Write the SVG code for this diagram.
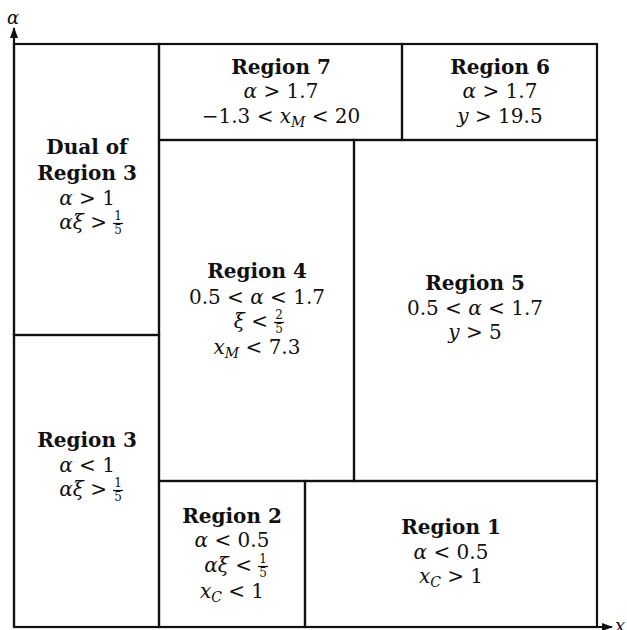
<svg xmlns="http://www.w3.org/2000/svg" width="627" height="630" viewBox="0 0 627 630">
<style>
.cell{fill:none;stroke:#111;stroke-width:2.2}
.ax{fill:none;stroke:#111;stroke-width:2.2}
text{font-family:"DejaVu Serif","Liberation Serif",serif;fill:#111}
.t{font-size:20px;font-weight:bold;text-anchor:middle}
.m{font-size:20px;text-anchor:middle}
.e{font-size:20px;text-anchor:end}
.i{font-style:italic}
.s{font-size:14px;font-style:italic}
.f{font-size:12px;text-anchor:middle}
.bar{stroke:#111;stroke-width:1.2}
</style>
<defs>
<marker id="ah" markerWidth="11" markerHeight="8" refX="10" refY="4" orient="auto" markerUnits="userSpaceOnUse">
<path d="M0,0 L11,4 L0,8 Z" fill="#111"/>
</marker>
</defs>
<g id="connectors">
<line class="ax" x1="14" y1="627" x2="14" y2="28" marker-end="url(#ah)"/>
<line class="ax" x1="14" y1="627" x2="612" y2="627" marker-end="url(#ah)"/>
<text class="i" x="13" y="24" font-size="18" text-anchor="middle">α</text>
<text class="i" x="615" y="632" font-size="18">x</text>
</g>
<g id="dual3">
<rect class="cell" x="14" y="44" width="145" height="291"/>
<text class="t" x="87" y="154">Dual of</text>
<text class="t" x="87" y="180">Region 3</text>
<text class="m" x="87" y="205"><tspan class="i">α</tspan> &gt; 1</text>
<text class="e" x="107" y="229"><tspan class="i">αξ</tspan> &gt;</text>
<text class="f" x="118" y="220">1</text>
<line class="bar" x1="113" y1="223.5" x2="123" y2="223.5"/>
<text class="f" x="118" y="234">5</text>
</g>
<g id="region3">
<rect class="cell" x="14" y="335" width="145" height="292"/>
<text class="t" x="87" y="447">Region 3</text>
<text class="m" x="87" y="472"><tspan class="i">α</tspan> &lt; 1</text>
<text class="e" x="107" y="496"><tspan class="i">αξ</tspan> &gt;</text>
<text class="f" x="118" y="487">1</text>
<line class="bar" x1="113" y1="490.5" x2="123" y2="490.5"/>
<text class="f" x="118" y="501">5</text>
</g>
<g id="region7">
<rect class="cell" x="159" y="44" width="243" height="96"/>
<text class="t" x="281" y="74">Region 7</text>
<text class="m" x="281" y="98"><tspan class="i">α</tspan> &gt; 1.7</text>
<text class="m" x="281" y="123">−1.3 &lt; <tspan class="i">x</tspan><tspan class="s" dy="4">M</tspan><tspan dy="-4"> &lt; 20</tspan></text>
</g>
<g id="region6">
<rect class="cell" x="402" y="44" width="195" height="96"/>
<text class="t" x="500" y="74">Region 6</text>
<text class="m" x="500" y="98"><tspan class="i">α</tspan> &gt; 1.7</text>
<text class="m" x="500" y="123"><tspan class="i">y</tspan> &gt; 19.5</text>
</g>
<g id="region4">
<rect class="cell" x="159" y="140" width="195" height="341"/>
<text class="t" x="257" y="278">Region 4</text>
<text class="m" x="257" y="304">0.5 &lt; <tspan class="i">α</tspan> &lt; 1.7</text>
<text class="e" x="268" y="328"><tspan class="i">ξ</tspan> &lt;</text>
<text class="f" x="279" y="319">2</text>
<line class="bar" x1="274" y1="322.5" x2="284" y2="322.5"/>
<text class="f" x="279" y="333">5</text>
<text class="m" x="257" y="354"><tspan class="i">x</tspan><tspan class="s" dy="4">M</tspan><tspan dy="-4"> &lt; 7.3</tspan></text>
</g>
<g id="region5">
<rect class="cell" x="354" y="140" width="243" height="341"/>
<text class="t" x="475" y="290">Region 5</text>
<text class="m" x="475" y="315">0.5 &lt; <tspan class="i">α</tspan> &lt; 1.7</text>
<text class="m" x="475" y="339"><tspan class="i">y</tspan> &gt; 5</text>
</g>
<g id="region2">
<rect class="cell" x="159" y="481" width="146" height="146"/>
<text class="t" x="232" y="523">Region 2</text>
<text class="m" x="232" y="547"><tspan class="i">α</tspan> &lt; 0.5</text>
<text class="e" x="252" y="572"><tspan class="i">αξ</tspan> &lt;</text>
<text class="f" x="263" y="563">1</text>
<line class="bar" x1="258" y1="566.5" x2="268" y2="566.5"/>
<text class="f" x="263" y="577">5</text>
<text class="m" x="232" y="598"><tspan class="i">x</tspan><tspan class="s" dy="4">C</tspan><tspan dy="-4"> &lt; 1</tspan></text>
</g>
<g id="region1">
<rect class="cell" x="305" y="481" width="292" height="146"/>
<text class="t" x="451" y="534">Region 1</text>
<text class="m" x="451" y="559"><tspan class="i">α</tspan> &lt; 0.5</text>
<text class="m" x="451" y="583"><tspan class="i">x</tspan><tspan class="s" dy="4">C</tspan><tspan dy="-4"> &gt; 1</tspan></text>
</g>
</svg>
